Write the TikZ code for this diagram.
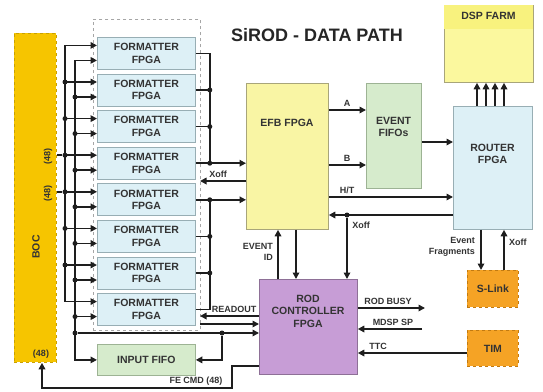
\documentclass[tikz,border=0pt]{standalone}
\usepackage{fontspec}
\setmainfont{Liberation Sans}
\usetikzlibrary{arrows.meta,calc}
\definecolor{txt}{HTML}{333333}
\definecolor{wirec}{HTML}{1E1E1E}
\definecolor{bocfill}{HTML}{F6C500}
\definecolor{bocdraw}{HTML}{C9A000}
\definecolor{fmtfill}{HTML}{DDF0F6}
\definecolor{fmtdraw}{HTML}{98AEB4}
\definecolor{efbfill}{HTML}{F9F5A4}
\definecolor{efbdraw}{HTML}{A8A57A}
\definecolor{grnfill}{HTML}{D6EBCC}
\definecolor{grndraw}{HTML}{9DB394}
\definecolor{rodfill}{HTML}{C79DD6}
\definecolor{roddraw}{HTML}{8E7097}
\definecolor{orgfill}{HTML}{F5A325}
\definecolor{orgdraw}{HTML}{C27A10}
\definecolor{dspfill}{HTML}{FBF89E}
\definecolor{dsptop}{HTML}{F8F27E}
\begin{document}
\begin{tikzpicture}[x=1pt,y=-1pt,
  font=\bfseries\fontsize{10.5}{12.5}\selectfont,
  blk/.style={draw=#1, line width=0.8pt, anchor=north west, inner sep=0pt, align=center, text=txt},
  fmtbox/.style={blk=fmtdraw, fill=fmtfill, minimum width=98pt, minimum height=32pt},
  wire/.style={draw=wirec, line width=1.6pt},
  arr/.style={wire, -{Triangle[length=6.5pt,width=6.5pt]}},
  lbl/.style={font=\bfseries\fontsize{9}{10.5}\selectfont, text=txt, inner sep=0pt},
  jdot/.style={circle, fill=wirec, inner sep=0pt, minimum size=5pt}]
\useasboundingbox (0,0) rectangle (543,391);
\fill[white] (0,0) rectangle (543,391);

% title
\node[font=\bfseries\fontsize{18}{20}\selectfont, text=black!85] (title) at (317,35) {SiROD - DATA PATH};

% BOC
\node[blk=bocdraw, dashed, fill=bocfill, minimum width=42pt, minimum height=329pt] (boc) at (14,33) {};
\node[text=txt, rotate=90] (boctxt) at (36,247) {BOC};
\node[lbl, rotate=90] (l48a) at (48,156) {(48)};
\node[lbl, rotate=90] (l48b) at (48,193) {(48)};
\node[lbl] (l48c) at (41,354) {(48)};

% formatter container
\node[draw=black!35, dashed, line width=0.8pt, anchor=north west, minimum width=107pt, minimum height=311pt, inner sep=0pt] (cont) at (93,19) {};

% formatters
\foreach \i/\t in {1/37,2/73.6,3/110.2,4/146.8,5/183.4,6/220,7/256.6,8/293.2}{
  \node[fmtbox] (f\i) at (97,\t) {FORMATTER\\FPGA};
}

% input fifo
\node[blk=grndraw, fill=grnfill, minimum width=98pt, minimum height=31pt] (fifo) at (97,344) {INPUT FIFO};

% EFB
\node[blk=efbdraw, fill=efbfill, minimum width=82pt, minimum height=146pt] (efb) at (246,83) {};
\node[text=txt] (efbtxt) at (287,123) {EFB FPGA};

% event fifos
\node[blk=grndraw, fill=grnfill, minimum width=55pt, minimum height=105pt] (efifo) at (366,83) {};
\node[text=txt, align=center] (efifotxt) at (393.5,127) {EVENT\\FIFOs};

% router
\node[blk=fmtdraw, fill=fmtfill, minimum width=79pt, minimum height=123pt] (router) at (453,106) {};
\node[text=txt, align=center] (routertxt) at (492.5,154) {ROUTER\\FPGA};

% DSP farm
\node[blk=efbdraw, fill=dspfill, minimum width=89pt, minimum height=77pt] (dsp) at (444,5) {};
\fill[dsptop] ($(dsp.north west)+(0.4,0.4)$) rectangle ($(dsp.north east)+(-0.4,24)$);
\node[text=txt] (dsptxt) at (488.5,16) {DSP FARM};

% ROD controller
\node[blk=roddraw, fill=rodfill, minimum width=98pt, minimum height=95pt] (rod) at (259,279) {};
\node[text=txt, align=center] (rodtxt) at (308,311) {ROD\\CONTROLLER\\FPGA};

% S-Link, TIM
\node[blk=orgdraw, dashed, fill=orgfill, minimum width=51pt, minimum height=37pt] (slink) at (467,270) {S-Link};
\node[blk=orgdraw, dashed, fill=orgfill, minimum width=51pt, minimum height=36pt] (tim) at (467,330) {TIM};

% ---------- left wiring ----------
\foreach \i in {1,...,8}{
  \draw[arr] ($(f\i.west)+(-32,-8)$) -- ($(f\i.west)+(0,-8)$);
  \draw[arr] ($(f\i.west)+(-22,7)$) -- ($(f\i.west)+(0,7)$);
}
\draw[wire] ($(f1.west)+(-32,-8)$) -- ($(f8.west)+(-32,-8)$);
\coordinate (bus2top) at ($(f1.west)+(-22,7)$);
\coordinate (bus2mid) at (bus2top |- 0,333);
\draw[arr] (bus2top) |- (fifo.west);
\foreach \i in {2,...,7}{ \node[jdot] (da\i) at ($(f\i.west)+(-32,-8)$) {}; }
\foreach \i in {2,...,8}{ \node[jdot] (db\i) at ($(f\i.west)+(-22,7)$) {}; }
\draw[wire] (boc.east |- da4) -- (da4);
\draw[wire] (boc.east |- da5) -- (da5);

% bus to ROD and input FIFO
\node[jdot] (dm) at (bus2mid) {};
\coordinate (split) at (222,333);
\draw[arr] (dm) -- (rod.west |- dm);
\node[jdot] (ds) at (split) {};
\draw[arr] (ds) |- (fifo.east);

% ---------- right of formatters ----------
\foreach \i in {1,2,3,6,7,8}{ \draw[wire] (f\i.east) -- ++(14,0) coordinate (r\i); }
\draw[arr] (f4.east) -- (f4.east -| efb.west);
\draw[arr] (f5.east) -- (f5.east -| efb.west);
\draw[wire] (r1) -- ($(f4.east)+(14,0)$);
\draw[wire] (r8) -- ($(f5.east)+(14,0)$);
\foreach \i in {2,3,6,7}{ \node[jdot] at (r\i) {}; }
\node[jdot] (d4) at ($(f4.east)+(14,0)$) {};
\node[jdot] (d5) at ($(f5.east)+(14,0)$) {};

% Xoff to formatters
\coordinate (xo1) at (200,181);
\draw[arr] (efb.west |- xo1) -- (xo1);
\node[lbl, anchor=south] (xofflbl1) at (218,178) {Xoff};

% READOUT and extra input
\coordinate (ro) at (200,316);
\draw[arr] (rod.west |- ro) -- (ro);
\node[lbl, anchor=south] (readoutlbl) at (234,313) {READOUT};
\coordinate (in2) at (200,324);
\draw[arr] (in2) -- (rod.west |- in2);

% FE CMD
\coordinate (fe1) at (232,366);
\coordinate (fe2) at (232,388);
\draw[arr] (rod.west |- fe1) -- (fe1) -- (fe2) -| ($(boc.south west)+(28,0)$);
\node[lbl, anchor=south] (felbl) at (196,386) {FE CMD (48)};

% ---------- EFB ----------
\coordinate (ya) at (0,110);
\coordinate (yb) at (0,165);
\coordinate (yht) at (0,197);
\coordinate (yx) at (0,215);
\draw[arr] (efb.east |- ya) -- (efifo.west |- ya);
\node[lbl, anchor=south] (alb) at (347,107) {A};
\draw[arr] (efb.east |- yb) -- (efifo.west |- yb);
\node[lbl, anchor=south] (blb) at (347,162) {B};
\draw[arr] (efb.east |- yht) -- (router.west |- yht);
\node[lbl, anchor=south] (htlb) at (347,194) {H/T};
\draw[arr] (router.west |- yx) -- (efb.east |- yx);
\node[jdot] (dx) at (347,215) {};
\draw[arr] (dx) -- (rod.north -| dx);
\node[lbl] (xofflbl2) at (361,225) {Xoff};
\coordinate (yf) at (0,142);
\draw[arr] (efifo.east |- yf) -- (router.west |- yf);

% EFB <-> ROD
\coordinate (eid) at (278,0);
\coordinate (edn) at (296,0);
\draw[arr] (rod.north -| eid) -- (efb.south -| eid);
\draw[arr] (efb.south -| edn) -- (rod.north -| edn);
\node[lbl, align=right, anchor=east] (eidlbl) at (273,252) {EVENT\\ID};

% router -> DSP
\foreach \x in {477,486,495,504}{
  \draw[arr] (router.north -| \x,0) -- (dsp.south -| \x,0);
}

% router <-> S-Link
\coordinate (ef) at (481,0);
\coordinate (sx) at (504,0);
\draw[arr] (router.south -| ef) -- (slink.north -| ef);
\draw[arr] (slink.north -| sx) -- (router.south -| sx);
\node[lbl, align=right, anchor=east] (eflbl) at (475,247) {Event\\Fragments};
\node[lbl, anchor=west] (xofflbl3) at (509,242) {Xoff};

% ROD right side
\coordinate (busy) at (425,308);
\draw[arr] (rod.east |- busy) -- (busy);
\node[lbl, anchor=south] (busylbl) at (388,305) {ROD BUSY};
\coordinate (mdsp) at (422,329);
\draw[arr] (mdsp) -- (rod.east |- mdsp);
\node[lbl, anchor=south] (mdsplbl) at (393,326) {MDSP SP};
\coordinate (ttc) at (0,353);
\draw[arr] (tim.west |- ttc) -- (rod.east |- ttc);
\node[lbl, anchor=south] (ttclbl) at (378,350) {TTC};
\end{tikzpicture}
\end{document}
